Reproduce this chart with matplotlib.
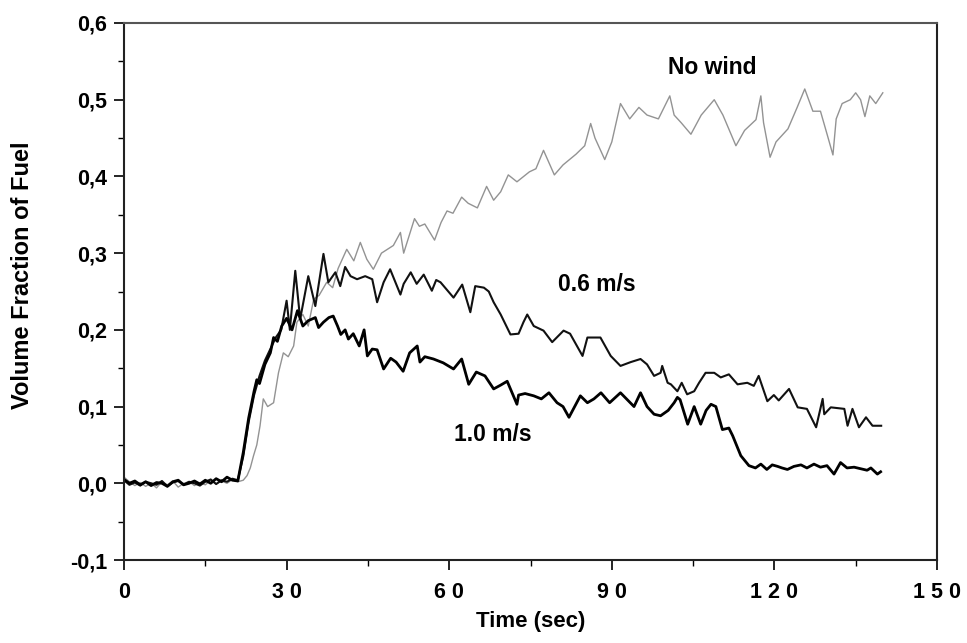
import numpy as np
import matplotlib
matplotlib.use('Agg')
import matplotlib.pyplot as plt
from matplotlib.ticker import MultipleLocator, FixedLocator, FixedFormatter

plt.rcParams['font.family'] = ['Liberation Sans', 'DejaVu Sans']

# No wind (grey trace)
t_nowind = [0, 1, 2, 3, 4, 5, 6, 7, 8, 9, 10, 11, 12, 13, 14, 15, 16, 17, 18, 19, 20, 21, 22,
            22.7, 23.3, 23.9, 24.5, 25.1, 25.7, 26.5, 27.6, 28.5, 29.4, 30.3, 31.3, 31.9, 33, 34, 35,
            36, 37.4, 38.5, 39.5, 41.1, 42.4, 43.6, 44.8, 46, 47.5, 49.7, 51, 51.6, 53.6, 54.5, 55.5,
            57.3, 58.5, 59.6, 60.7, 62.3, 63.5, 65.2, 66.9, 68.2, 69.5, 70.9, 72.5, 74.8, 76, 77.4,
            79.4, 81, 83.4, 85, 86.1, 86.9, 88.7, 90, 91.6, 93.3, 95, 96.5, 98.6, 100.7, 101.5, 102.8,
            104.6, 106.5, 108.9, 110.5, 112.9, 114.5, 116.6, 117.5, 118, 119.2, 120.3, 122.5, 124.2,
            125.6, 127.1, 128.5, 129.8, 130.8, 131.4, 132.5, 134, 135, 135.9, 136.7, 137.6, 138.7, 140]
v_nowind = [0.008, 0.002, -0.003, 0.001, -0.004, 0.0, -0.006, 0.002, -0.002, 0.003, -0.005, 0.0,
            0.002, -0.003, 0.001, -0.002, 0.004, -0.001, 0.003, 0.0, 0.005, 0.002, 0.004,
            0.01, 0.02, 0.036, 0.05, 0.075, 0.11, 0.1, 0.105, 0.144, 0.17, 0.165, 0.179, 0.21, 0.22,
            0.205, 0.24, 0.245, 0.262, 0.255, 0.28, 0.305, 0.29, 0.314, 0.292, 0.279, 0.3, 0.31, 0.327,
            0.3, 0.345, 0.335, 0.338, 0.317, 0.34, 0.355, 0.352, 0.373, 0.365, 0.359, 0.387, 0.369,
            0.38, 0.402, 0.393, 0.406, 0.41, 0.434, 0.402, 0.415, 0.429, 0.44, 0.469, 0.45, 0.422,
            0.445, 0.495, 0.475, 0.49, 0.48, 0.475, 0.505, 0.48, 0.47, 0.455, 0.48, 0.5, 0.48, 0.44,
            0.46, 0.474, 0.505, 0.47, 0.425, 0.445, 0.462, 0.49, 0.514, 0.485, 0.485, 0.453, 0.428,
            0.475, 0.495, 0.5, 0.509, 0.5, 0.478, 0.505, 0.495, 0.509]

# 0.6 m/s
t_06 = [0, 1, 2, 3, 4, 5, 6, 7, 8, 9, 10, 11, 12, 13, 14, 15, 16, 17, 18, 19, 20, 21,
        22, 23, 24, 25, 26, 27, 28, 29, 30, 30.6, 31.6, 32.5, 34, 35.3, 36.8, 37.7, 39, 39.9, 40.8,
        41.8, 43, 44.5, 45.8, 46.7, 47.9, 49.1, 51, 51.6, 52.9, 54, 55.3, 56.8, 57.6, 58.4, 60.8,
        62.4, 63.9, 64.8, 66.4, 67.3, 68.2, 69.5, 71.3, 72.8, 73.7, 74.4, 75.6, 77.4, 79, 81.1,
        82.3, 84.6, 85.5, 87.9, 89.8, 91.6, 93.5, 95.3, 96.5, 97.8, 99, 99.3, 100.3, 100.9, 102.1,
        102.9, 103.9, 105.2, 106.1, 107.3, 108.9, 110.1, 111.6, 113.2, 115, 116.2, 117.1, 118.7,
        119.9, 120.8, 122.7, 124.3, 126, 127.7, 128.9, 129.2, 130.4, 132.9, 133.5, 134.4, 135.6,
        136.9, 138.1, 139.7]
v_06 = [0.004, -0.002, 0.001, -0.003, 0.002, 0.0, -0.002, 0.003, -0.004, 0.001, 0.003, -0.002,
        0.002, 0.0, -0.003, 0.002, 0.005, -0.001, 0.004, 0.002, 0.006, 0.004,
        0.035, 0.08, 0.115, 0.14, 0.16, 0.175, 0.19, 0.2, 0.238, 0.2, 0.277, 0.214, 0.27, 0.231,
        0.299, 0.262, 0.275, 0.257, 0.282, 0.27, 0.266, 0.27, 0.266, 0.236, 0.262, 0.279, 0.246,
        0.26, 0.275, 0.26, 0.272, 0.251, 0.265, 0.262, 0.242, 0.259, 0.223, 0.257, 0.255, 0.25,
        0.236, 0.22, 0.194, 0.195, 0.21, 0.22, 0.205, 0.199, 0.184, 0.199, 0.195, 0.166, 0.19,
        0.19, 0.166, 0.153, 0.158, 0.162, 0.155, 0.14, 0.144, 0.153, 0.131, 0.129, 0.12, 0.131,
        0.116, 0.12, 0.131, 0.144, 0.144, 0.138, 0.142, 0.129, 0.131, 0.127, 0.14, 0.107, 0.115,
        0.108, 0.123, 0.099, 0.097, 0.073, 0.11, 0.09, 0.099, 0.097, 0.075, 0.097, 0.073, 0.086,
        0.075, 0.075]

# 1.0 m/s
t_10 = [0, 1, 2, 3, 4, 5, 6, 7, 8, 9, 10, 11, 12, 13, 14, 15, 16, 17, 18, 19, 20, 21,
        22, 23, 24, 24.5, 25, 26, 27, 27.6, 28.3, 29.1, 30, 31, 32, 33, 34, 35.3, 35.9, 36.8, 37.8,
        38.6, 39.4, 40, 40.8, 41.4, 42.3, 43.4, 44.3, 44.9, 45.8, 46.7, 47.9, 49.2, 50.2, 51.5,
        52.7, 54.1, 54.6, 55.5, 57.1, 58.9, 60.8, 62.3, 63.6, 65, 66.6, 68.2, 69.5, 70.7, 72.5,
        72.8, 74, 75.6, 77, 78.4, 79.9, 81, 82.1, 84.2, 85.5, 86.7, 88, 89.6, 91.6, 94.1, 95.3,
        96.5, 97.8, 99, 100.4, 101.5, 102.1, 102.6, 104, 105.2, 106.4, 107.4, 108.3, 109.2, 110.4,
        111.6, 112.3, 113.8, 115.3, 116.5, 117.5, 118.6, 119.6, 120.6, 121.4, 122.4, 123.6, 124.9,
        126, 127.3, 128.5, 129.7, 131, 132.2, 133.4, 134.7, 135.9, 137.1, 137.8, 139, 139.6]
v_10 = [0.005, 0.0, 0.003, -0.002, 0.002, -0.003, 0.001, 0.0, -0.004, 0.002, 0.004, -0.002,
        0.0, 0.003, -0.001, 0.004, 0.0, 0.006, 0.002, 0.008, 0.004, 0.003,
        0.04, 0.085, 0.12, 0.135, 0.13, 0.155, 0.17, 0.19, 0.185, 0.205, 0.215, 0.2, 0.225, 0.205,
        0.212, 0.216, 0.203, 0.21, 0.216, 0.218, 0.205, 0.194, 0.2, 0.188, 0.195, 0.179, 0.2,
        0.166, 0.175, 0.174, 0.149, 0.163, 0.158, 0.146, 0.17, 0.179, 0.158, 0.165, 0.162, 0.157,
        0.149, 0.162, 0.129, 0.145, 0.14, 0.123, 0.128, 0.133, 0.103, 0.115, 0.117, 0.114, 0.11,
        0.118, 0.105, 0.1, 0.086, 0.114, 0.105, 0.11, 0.118, 0.105, 0.118, 0.1, 0.118, 0.1, 0.09,
        0.088, 0.095, 0.105, 0.112, 0.109, 0.077, 0.1, 0.077, 0.095, 0.103, 0.1, 0.07, 0.072,
        0.062, 0.036, 0.023, 0.02, 0.025, 0.018, 0.024, 0.022, 0.02, 0.018, 0.022, 0.024, 0.02,
        0.025, 0.021, 0.023, 0.012, 0.027, 0.02, 0.021, 0.019, 0.017, 0.02, 0.012, 0.015]

x_ticks = [0, 30, 60, 90, 120, 150]
x_ticklabels = ['0', '3 0', '6 0', '9 0', '1 2 0', '1 5 0']
y_ticks = [-0.1, 0.0, 0.1, 0.2, 0.3, 0.4, 0.5, 0.6]
y_ticklabels = ['-0,1', '0,0', '0,1', '0,2', '0,3', '0,4', '0,5', '0,6']

fig = plt.figure(figsize=(9.67, 6.43), dpi=100)
ax = fig.add_axes([124 / 967, 1 - 560 / 643, 813 / 967, 537 / 643])

ax.plot(t_nowind, v_nowind, color='#939393', linewidth=1.0)
ax.plot(t_06, v_06, color='#111111', linewidth=1.5)
ax.plot(t_10, v_10, color='#000000', linewidth=2.0)

ax.set_xlim(0, 150)
ax.set_ylim(-0.1, 0.6)

ax.xaxis.set_major_locator(FixedLocator(x_ticks))
ax.xaxis.set_major_formatter(FixedFormatter(x_ticklabels))
ax.xaxis.set_minor_locator(MultipleLocator(15))
ax.yaxis.set_major_locator(FixedLocator(y_ticks))
ax.yaxis.set_major_formatter(FixedFormatter(y_ticklabels))
ax.yaxis.set_minor_locator(MultipleLocator(0.05))

ax.tick_params(axis='both', which='major', direction='out', length=7, width=1.2,
               labelsize=15.5)
ax.tick_params(axis='x', which='major', pad=9)
ax.tick_params(axis='y', which='major', pad=5)
ax.tick_params(axis='both', which='minor', direction='out', length=4, width=1.0)
ax.tick_params(top=False, right=False, which='both')
for lab in ax.get_xticklabels() + ax.get_yticklabels():
    lab.set_fontweight('bold')

for side in ['left', 'bottom', 'right']:
    ax.spines[side].set_linewidth(1.5)
    ax.spines[side].set_color('#222222')
ax.spines['top'].set_linewidth(1.5)
ax.spines['top'].set_color('#555555')

ax.set_xlabel('Time (sec)', fontsize=16, fontweight='bold')
ax.xaxis.set_label_coords(0.5, -0.095)
ax.set_ylabel('Volume Fraction of Fuel', fontsize=17, fontweight='bold')
ax.yaxis.set_label_coords(-(124 - 34) / 813, 0.53)

ax.text(108.6, 0.542, 'No wind', fontsize=16.5, fontweight='bold', ha='center', va='center')
ax.text(87.2, 0.259, '0.6 m/s', fontsize=16.5, fontweight='bold', ha='center', va='center')
ax.text(68, 0.063, '1.0 m/s', fontsize=16.5, fontweight='bold', ha='center', va='center')

fig.savefig('out.png', dpi=100)
